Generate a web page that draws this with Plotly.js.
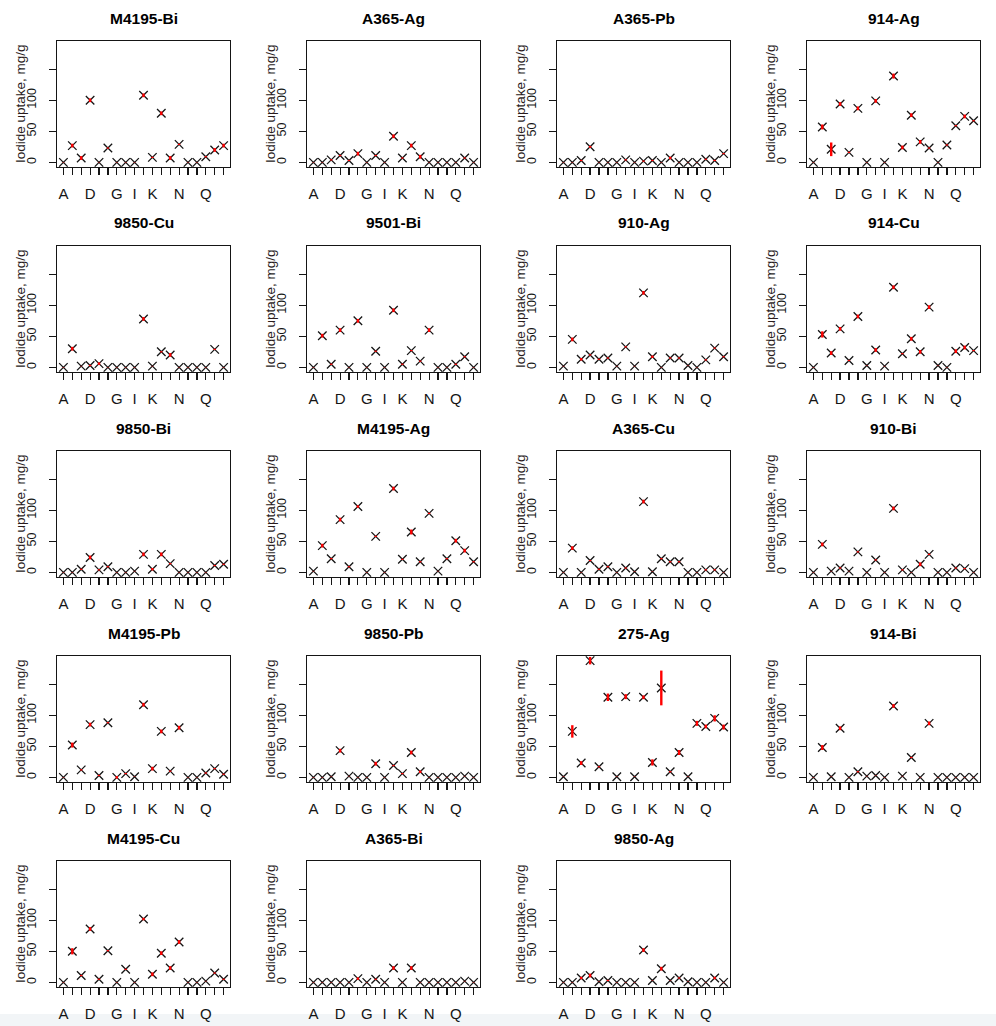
<!DOCTYPE html>
<html>
<head>
<meta charset="utf-8">
<script src="https://cdn.plot.ly/plotly-3.0.1.min.js"></script>
<style>
  html, body { margin: 0; padding: 0; background: #fff; }
  #grafik { width: 996px; height: 1026px; }
</style>
</head>
<body>
<div id="grafik"></div>
<script>
// categories along x (A..S), only some letters get a label like in R
const categories = ['A','B','C','D','E','F','G','H','I','J','K','L','M','N','O','P','Q','R','S'];
const shownLabels = ['A','D','G','I','K','N','Q'];
const yTicks = [0, 50, 100, 150];
const yTickLabels = ['0', '50', '100', ''];

// uptake means (mg/g) and error bar half-lengths
const m4195Bi    = [0,27,7,100,0,23,0,0,0,108,8,79,7,29,0,0,9,20,27];
const m4195BiErr = [0.3,3,3,3,0.3,1,0.3,0.3,0.3,3,1,3,3,1,0.3,0.3,1,3,3];
const a365Ag     = [0,0,4,11,3,14,0,11,0,42,7,27,9,0,0,0,0,7,0];
const a365AgErr  = [0.3,0.3,1,1,1,3,0.3,1,0.3,3,1,3,3,0.3,0.3,0.3,0.3,1,0.3];
const a365Pb     = [0,0,3,25,0,0,0,4,0,2,3,0,7,0,0,0,5,3,14];
const a365PbErr  = [0.3,0.3,1,1.5,0.3,0.3,0.3,1,0.3,1,1,0.3,2,0.3,0.3,0.3,1,1,1];
const ag914      = [0,57,21,94,16,87,0,99,0,139,24,76,33,23,0,28,59,74,67];
const ag914Err   = [0.3,4,11,3,1,3,0.3,3,0.3,4,3,3,3,1,0.3,1,1,3,1];

const cu9850     = [0,30,2,3,6,0,0,0,0,78,2,25,20,0,0,0,0,29,0];
const cu9850Err  = [0.3,3,0.3,1,2,0.3,0.3,0.3,0.3,3,0.3,1,3,0.3,0.3,0.3,0.3,1,0.3];
const bi9501     = [0,51,5,60,0,75,0,26,0,92,5,27,10,60,0,0,5,17,0];
const bi9501Err  = [0.3,3,1,3,0.3,3,0.3,1,0.3,3,1,1,1,3,0.3,0.3,1,1,0.3];
const ag910      = [2,45,13,20,13,15,2,33,2,120,17,0,15,15,3,0,12,31,17];
const ag910Err   = [0.3,3,2,1,1,1,0.3,1,0.3,3,2,0.3,1,1,0.3,0.3,1,1,1];
const cu914      = [0,53,23,62,11,82,3,28,2,129,22,46,25,97,3,0,26,32,27];
const cu914Err   = [0.3,5,3,3,1,3,0.3,3,0.3,3,1,3,3,3,0.3,0.3,3,3,1];

const bi9850     = [0,0,5,24,4,9,0,0,2,29,5,29,14,0,0,0,0,11,13];
const bi9850Err  = [0.3,0.3,1,3,1,1,0.3,0.3,0.3,3,2,3,1,0.3,0.3,0.3,0.3,1,1];
const m4195Ag    = [2,43,22,85,9,106,0,58,0,135,21,65,17,95,2,22,51,35,17];
const m4195AgErr = [0.3,3,1,3,1,2,0.3,1,0.3,3,1,4,1,1,0.3,1,3,3,1];
const a365Cu     = [0,39,0,19,5,9,0,7,1,114,1,22,17,17,0,0,4,4,0];
const a365CuErr  = [0.3,3,0.3,1,1,1,0.3,1,0.3,3,0.3,1,1,1,0.3,0.3,1,1,0.3];
const bi910      = [0,45,2,7,2,33,0,20,0,103,4,0,13,29,0,0,7,6,0];
const bi910Err   = [0.3,3,0.3,1,0.3,1,0.3,1,0.3,3,1,0.3,3,1,0.3,0.3,1,1,0.3];

const m4195Pb    = [0,52,12,85,3,88,0,6,1,117,14,74,10,80,0,0,7,14,5];
const m4195PbErr = [0.3,4,1,3,1,1,2,1,0.3,3,3,3,1,3,0.3,0.3,1,1,1];
const pb9850     = [0,0,1,43,2,0,0,22,0,19,6,40,9,0,0,0,0,2,0];
const pb9850Err  = [0.3,0.3,0.3,3,0.3,0.3,0.3,3,0.3,1,1,3,2,0.3,0.3,0.3,0.3,0.3,0.3];
const ag275      = [1,74,23,188,17,129,1,130,1,129,24,144,9,40,1,87,82,95,81];
const ag275Err   = [0.3,10,3,6,1,6,0.3,4,0.3,3,5,28,1,4,0.3,4,3,5,4];
const bi914      = [0,48,1,79,0,9,2,3,0,115,2,32,0,87,0,0,0,0,0];
const bi914Err   = [0.3,4,0.3,3,0.3,1,0.3,0.3,0.3,3,0.3,1,0.3,3,0.3,0.3,0.3,0.3,0.3];

const m4195Cu    = [0,50,11,86,5,51,0,21,0,102,13,47,23,65,0,0,2,15,5];
const m4195CuErr = [0.3,5,1,3,1,1,0.3,1,0.3,2,3,3,3,3,0.3,0.3,0.3,1,1];
const a365Bi     = [0,0,0,0,0,6,0,5,0,23,0,23,0,0,0,0,0,2,0];
const a365BiErr  = [0.3,0.3,0.3,0.3,0.3,2,0.3,1,0.3,3,0.3,3,0.3,0.3,0.3,0.3,0.3,0.3,0.3];
const ag9850     = [0,0,7,11,1,3,0,0,0,52,3,22,3,7,1,0,0,7,0];
const ag9850Err  = [0.3,0.3,2,3,0.3,1,0.3,0.3,0.3,3,0.3,3,0.3,1,0.3,0.3,0.3,2,0.3];

// panel order, row by row
const panels = [
  ['M4195-Bi', m4195Bi, m4195BiErr], ['A365-Ag', a365Ag, a365AgErr],
  ['A365-Pb', a365Pb, a365PbErr],    ['914-Ag', ag914, ag914Err],
  ['9850-Cu', cu9850, cu9850Err],    ['9501-Bi', bi9501, bi9501Err],
  ['910-Ag', ag910, ag910Err],       ['914-Cu', cu914, cu914Err],
  ['9850-Bi', bi9850, bi9850Err],    ['M4195-Ag', m4195Ag, m4195AgErr],
  ['A365-Cu', a365Cu, a365CuErr],    ['910-Bi', bi910, bi910Err],
  ['M4195-Pb', m4195Pb, m4195PbErr], ['9850-Pb', pb9850, pb9850Err],
  ['275-Ag', ag275, ag275Err],       ['914-Bi', bi914, bi914Err],
  ['M4195-Cu', m4195Cu, m4195CuErr], ['A365-Bi', a365Bi, a365BiErr],
  ['9850-Ag', ag9850, ag9850Err]
];

const W = 996, H = 1026;
const ink = '#151515';

const data = [];
const layout = {
  width: W, height: H,
  margin: { l: 0, r: 0, t: 0, b: 0 },
  showlegend: false,
  paper_bgcolor: '#ffffff',
  plot_bgcolor: '#ffffff',
  font: { family: 'Liberation Sans, Arial, sans-serif', color: ink },
  annotations: [],
  shapes: [{
    type: 'rect', xref: 'paper', yref: 'paper',
    x0: 0, x1: 1, y0: 0, y1: (H - 1014) / H,
    fillcolor: '#f2f5f7', line: { width: 0 }, layer: 'below'
  }]
};

panels.forEach((p, i) => {
  const n = i === 0 ? '' : String(i + 1);
  const col = i % 4, row = Math.floor(i / 4);
  const left = 57 + 250 * col, top = 41 + 205 * row;
  const bw = 173, bh = 126;

  // black crosses
  data.push({
    x: categories, y: p[1],
    xaxis: 'x' + n, yaxis: 'y' + n,
    mode: 'markers', hoverinfo: 'skip',
    marker: { symbol: 'x-thin-open', size: 8.5, color: ink, line: { width: 1.3, color: ink } }
  });
  // red error bars on top
  data.push({
    x: categories, y: p[1],
    xaxis: 'x' + n, yaxis: 'y' + n,
    mode: 'markers', hoverinfo: 'skip',
    marker: { size: 2, opacity: 0 },
    error_y: { type: 'data', array: p[2], visible: true, color: '#ff0000', thickness: 2.4, width: 0 }
  });

  layout['xaxis' + n] = {
    domain: [left / W, (left + bw) / W],
    anchor: 'y' + n,
    type: 'category',
    range: [-0.72, 18.72],
    tickmode: 'array',
    tickvals: categories,
    ticktext: categories.map(c => shownLabels.includes(c) ? c : ''),
    ticks: 'outside', ticklen: 7, tickwidth: 1.2, tickcolor: ink,
    ticklabelstandoff: 6,
    tickfont: { size: 15, color: ink },
    showline: true, mirror: true, linecolor: ink, linewidth: 1.4,
    showgrid: false, zeroline: false, fixedrange: true
  };
  layout['yaxis' + n] = {
    domain: [1 - (top + bh) / H, 1 - top / H],
    anchor: 'x' + n,
    range: [-7.5, 195.5],
    tickmode: 'array',
    tickvals: yTicks,
    ticktext: yTickLabels,
    tickangle: -90,
    ticks: 'outside', ticklen: 7, tickwidth: 1.2, tickcolor: ink,
    ticklabelstandoff: 8,
    tickfont: { size: 12.5, color: ink },
    showline: true, mirror: true, linecolor: ink, linewidth: 1.4,
    showgrid: false, zeroline: false, fixedrange: true
  };

  // panel title
  layout.annotations.push({
    xref: 'paper', yref: 'paper',
    x: (left + bw / 2) / W, y: 1 - (top - 23) / H,
    xanchor: 'center', yanchor: 'middle',
    text: '<b>' + p[0] + '</b>', showarrow: false,
    font: { size: 15.5, color: '#000' }
  });
  // y axis title
  layout.annotations.push({
    xref: 'paper', yref: 'paper',
    x: (left - 37) / W, y: 1 - (top + bh / 2) / H,
    xanchor: 'center', yanchor: 'middle',
    textangle: -90,
    text: 'Iodide uptake, mg/g', showarrow: false,
    font: { size: 13.5, color: '#2a1c1c' }
  });
});

Plotly.newPlot('grafik', data, layout, { displayModeBar: false, staticPlot: true });
</script>
</body>
</html>
